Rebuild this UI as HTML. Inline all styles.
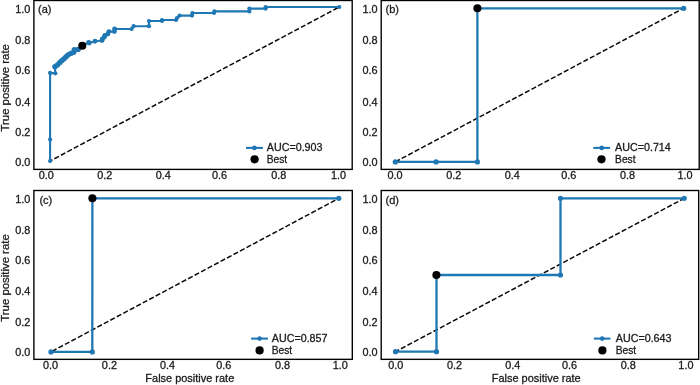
<!DOCTYPE html>
<html><head><meta charset="utf-8"><title>ROC</title>
<style>
html,body{margin:0;padding:0;background:#fff;}
body{width:700px;height:385px;overflow:hidden;}
svg{display:block;will-change:transform;opacity:0.999;}
text{font-family:"Liberation Sans",sans-serif;fill:#1a1a1a;stroke:#1a1a1a;stroke-width:0.28px;}
</style></head><body>
<svg width="700" height="385" viewBox="0 0 700 385">
<rect x="0" y="0" width="700" height="385" fill="#ffffff"/>

<g id="panel-a">
<line x1="50.1" y1="161" x2="339.3" y2="7" stroke="#0a0a0a" stroke-width="1.5" stroke-dasharray="5.1 2.25" stroke-dashoffset="2.5"/>
<polyline fill="none" stroke="#1f77b4" stroke-width="2.1" stroke-linejoin="round" points="50.1,161 50.1,139.6 50.1,72.9 55.3,73.3 54.9,66.8 55.15,65.09 57.4,64.9 57.62,63.01 59.6,62.8 59.81,61 61.7,60.8 61.91,59.18 63.8,59 64.01,57.2 65.9,57 66.11,55.2 68,55 68.29,53.56 70.9,53.4 71.18,52.32 73.7,52.2 73.76,50.04 74.3,49.8 74.68,49.44 78.1,49.4 82.3,45.8 88.6,42.4 89.2,43 95,41.2 102,40.5 102.4,38.9 104.4,37.1 104.8,35.4 107.8,34.1 108.9,31.6 114.4,31.6 114.6,29 131.6,29 133.6,26.2 149,26.2 149,21 162,21 162,20 176,20 177,18 179.6,15.6 192,15.6 192.4,13 214,13 214.4,11.4 249.4,11.4 249.4,8.6 265.6,8.6 265.6,7 339.3,7"/>
<circle cx="54.9" cy="66.8" r="2.7" fill="#1f77b4"/><circle cx="57.4" cy="64.9" r="2.7" fill="#1f77b4"/><circle cx="59.6" cy="62.8" r="2.7" fill="#1f77b4"/><circle cx="61.7" cy="60.8" r="2.7" fill="#1f77b4"/><circle cx="63.8" cy="59" r="2.7" fill="#1f77b4"/><circle cx="65.9" cy="57" r="2.7" fill="#1f77b4"/><circle cx="68" cy="55" r="2.7" fill="#1f77b4"/><circle cx="70.9" cy="53.4" r="2.7" fill="#1f77b4"/><circle cx="73.7" cy="52.2" r="2.7" fill="#1f77b4"/><circle cx="74.3" cy="49.8" r="2.7" fill="#1f77b4"/><circle cx="78.1" cy="49.4" r="2.7" fill="#1f77b4"/>
<circle cx="82.3" cy="45.8" r="2.45" fill="#1f77b4"/><circle cx="88.6" cy="42.4" r="2.45" fill="#1f77b4"/><circle cx="89.2" cy="43" r="2.45" fill="#1f77b4"/><circle cx="95" cy="41.2" r="2.45" fill="#1f77b4"/><circle cx="102" cy="40.5" r="2.45" fill="#1f77b4"/><circle cx="102.4" cy="38.9" r="2.45" fill="#1f77b4"/><circle cx="104.4" cy="37.1" r="2.45" fill="#1f77b4"/><circle cx="104.8" cy="35.4" r="2.45" fill="#1f77b4"/><circle cx="107.8" cy="34.1" r="2.45" fill="#1f77b4"/><circle cx="108.9" cy="31.6" r="2.45" fill="#1f77b4"/><circle cx="114.4" cy="31.6" r="2.45" fill="#1f77b4"/><circle cx="114.6" cy="29" r="2.45" fill="#1f77b4"/>
<circle cx="50.1" cy="161" r="2.1" fill="#1f77b4"/><circle cx="50.1" cy="139.6" r="2.1" fill="#1f77b4"/><circle cx="50.1" cy="72.9" r="2.1" fill="#1f77b4"/><circle cx="55.3" cy="73.3" r="2.1" fill="#1f77b4"/><circle cx="131.6" cy="29" r="2.1" fill="#1f77b4"/><circle cx="133.6" cy="26.2" r="2.1" fill="#1f77b4"/><circle cx="149" cy="26.2" r="2.1" fill="#1f77b4"/><circle cx="149" cy="21" r="2.1" fill="#1f77b4"/><circle cx="162" cy="21" r="2.1" fill="#1f77b4"/><circle cx="162" cy="20" r="2.1" fill="#1f77b4"/><circle cx="176" cy="20" r="2.1" fill="#1f77b4"/><circle cx="177" cy="18" r="2.1" fill="#1f77b4"/><circle cx="179.6" cy="15.6" r="2.1" fill="#1f77b4"/><circle cx="192" cy="15.6" r="2.1" fill="#1f77b4"/><circle cx="192.4" cy="13" r="2.1" fill="#1f77b4"/><circle cx="214" cy="13" r="2.1" fill="#1f77b4"/><circle cx="214.4" cy="11.4" r="2.1" fill="#1f77b4"/><circle cx="249.4" cy="11.4" r="2.1" fill="#1f77b4"/><circle cx="249.4" cy="8.6" r="2.1" fill="#1f77b4"/><circle cx="265.6" cy="8.6" r="2.1" fill="#1f77b4"/><circle cx="265.6" cy="7" r="2.1" fill="#1f77b4"/><circle cx="339.3" cy="7" r="2.1" fill="#1f77b4"/>
<circle cx="82.3" cy="45.8" r="4.05" fill="#000"/>
<rect x="33.9" y="0.5" width="318.3" height="168.9" fill="none" stroke="#000" stroke-width="1.38"/>
<text x="46.25" y="178.8" font-size="10.3" text-anchor="middle" textLength="15.1" lengthAdjust="spacingAndGlyphs">0.0</text>
<text x="104.75" y="178.8" font-size="10.3" text-anchor="middle" textLength="15.1" lengthAdjust="spacingAndGlyphs">0.2</text>
<text x="163.25" y="178.8" font-size="10.3" text-anchor="middle" textLength="15.1" lengthAdjust="spacingAndGlyphs">0.4</text>
<text x="219.5" y="178.8" font-size="10.3" text-anchor="middle" textLength="15.1" lengthAdjust="spacingAndGlyphs">0.6</text>
<text x="278.75" y="178.8" font-size="10.3" text-anchor="middle" textLength="15.1" lengthAdjust="spacingAndGlyphs">0.8</text>
<text x="338.5" y="178.8" font-size="10.3" text-anchor="middle" textLength="15.1" lengthAdjust="spacingAndGlyphs">1.0</text>
<text x="30.3" y="166.1" font-size="10.3" text-anchor="end" textLength="15.1" lengthAdjust="spacingAndGlyphs">0.0</text>
<text x="30.3" y="135.8" font-size="10.3" text-anchor="end" textLength="15.1" lengthAdjust="spacingAndGlyphs">0.2</text>
<text x="30.3" y="105.8" font-size="10.3" text-anchor="end" textLength="15.1" lengthAdjust="spacingAndGlyphs">0.4</text>
<text x="30.3" y="74.3" font-size="10.3" text-anchor="end" textLength="15.1" lengthAdjust="spacingAndGlyphs">0.6</text>
<text x="30.3" y="44" font-size="10.3" text-anchor="end" textLength="15.1" lengthAdjust="spacingAndGlyphs">0.8</text>
<text x="30.3" y="12.9" font-size="10.3" text-anchor="end" textLength="15.1" lengthAdjust="spacingAndGlyphs">1.0</text>
<text x="38" y="13" font-size="11" text-anchor="start" >(a)</text>
<line x1="246" y1="147.9" x2="262.9" y2="147.9" stroke="#1f77b4" stroke-width="2.1"/>
<circle cx="254.4" cy="147.9" r="2.3" fill="#1f77b4"/>
<text x="266.8" y="150.8" font-size="10" text-anchor="start" textLength="55.7" lengthAdjust="spacingAndGlyphs">AUC=0.903</text>
<circle cx="254.6" cy="159.3" r="4.1" fill="#000"/>
<text x="266.8" y="162.7" font-size="10.2" text-anchor="start" >Best</text>
</g>

<g id="panel-b">
<line x1="395.3" y1="161.9" x2="683.7" y2="8.2" stroke="#0a0a0a" stroke-width="1.5" stroke-dasharray="5.1 2.25" stroke-dashoffset="0"/>
<polyline fill="none" stroke="#1f77b4" stroke-width="2.3" stroke-linejoin="round" points="395.3,161.9 436.1,161.9 477.4,161.9 477.4,8.3 683.7,8.3"/>
<circle cx="395.3" cy="161.9" r="2.6" fill="#1f77b4"/><circle cx="436.1" cy="161.9" r="2.6" fill="#1f77b4"/><circle cx="477.4" cy="161.9" r="2.6" fill="#1f77b4"/><circle cx="477.4" cy="8.3" r="2.6" fill="#1f77b4"/><circle cx="683.7" cy="8.3" r="2.6" fill="#1f77b4"/>
<circle cx="477.4" cy="8.3" r="4.05" fill="#000"/>
<rect x="381.2" y="0.5" width="318" height="168.9" fill="none" stroke="#000" stroke-width="1.38"/>
<text x="395" y="178.8" font-size="10.3" text-anchor="middle" textLength="15.1" lengthAdjust="spacingAndGlyphs">0.0</text>
<text x="453.75" y="178.8" font-size="10.3" text-anchor="middle" textLength="15.1" lengthAdjust="spacingAndGlyphs">0.2</text>
<text x="512.25" y="178.8" font-size="10.3" text-anchor="middle" textLength="15.1" lengthAdjust="spacingAndGlyphs">0.4</text>
<text x="568.75" y="178.8" font-size="10.3" text-anchor="middle" textLength="15.1" lengthAdjust="spacingAndGlyphs">0.6</text>
<text x="627.5" y="178.8" font-size="10.3" text-anchor="middle" textLength="15.1" lengthAdjust="spacingAndGlyphs">0.8</text>
<text x="685" y="178.8" font-size="10.3" text-anchor="middle" textLength="15.1" lengthAdjust="spacingAndGlyphs">1.0</text>
<text x="377.6" y="166.1" font-size="10.3" text-anchor="end" textLength="15.1" lengthAdjust="spacingAndGlyphs">0.0</text>
<text x="377.6" y="135.8" font-size="10.3" text-anchor="end" textLength="15.1" lengthAdjust="spacingAndGlyphs">0.2</text>
<text x="377.6" y="105.8" font-size="10.3" text-anchor="end" textLength="15.1" lengthAdjust="spacingAndGlyphs">0.4</text>
<text x="377.6" y="74.3" font-size="10.3" text-anchor="end" textLength="15.1" lengthAdjust="spacingAndGlyphs">0.6</text>
<text x="377.6" y="44" font-size="10.3" text-anchor="end" textLength="15.1" lengthAdjust="spacingAndGlyphs">0.8</text>
<text x="377.6" y="12.9" font-size="10.3" text-anchor="end" textLength="15.1" lengthAdjust="spacingAndGlyphs">1.0</text>
<text x="385.5" y="13" font-size="11" text-anchor="start" >(b)</text>
<line x1="593.3" y1="147.9" x2="610.1" y2="147.9" stroke="#1f77b4" stroke-width="2.1"/>
<circle cx="601.7" cy="147.9" r="2.3" fill="#1f77b4"/>
<text x="615.1" y="150.8" font-size="10" text-anchor="start" textLength="55.7" lengthAdjust="spacingAndGlyphs">AUC=0.714</text>
<circle cx="601.5" cy="159.3" r="4.1" fill="#000"/>
<text x="615.1" y="162.7" font-size="10.2" text-anchor="start" >Best</text>
</g>

<g id="panel-c">
<line x1="51" y1="351.9" x2="338.9" y2="198.3" stroke="#0a0a0a" stroke-width="1.5" stroke-dasharray="5.1 2.25" stroke-dashoffset="-1.1"/>
<polyline fill="none" stroke="#1f77b4" stroke-width="2.3" stroke-linejoin="round" points="51,351.9 92.3,351.9 92.4,198.3 338.8,198.3"/>
<circle cx="51" cy="351.9" r="2.6" fill="#1f77b4"/><circle cx="92.3" cy="351.9" r="2.6" fill="#1f77b4"/><circle cx="92.4" cy="198.3" r="2.6" fill="#1f77b4"/><circle cx="338.8" cy="198.3" r="2.6" fill="#1f77b4"/>
<circle cx="92.4" cy="198.3" r="4.05" fill="#000"/>
<rect x="33.9" y="190.5" width="318.4" height="168.85" fill="none" stroke="#000" stroke-width="1.38"/>
<text x="50.5" y="369.4" font-size="10.3" text-anchor="middle" textLength="15.1" lengthAdjust="spacingAndGlyphs">0.0</text>
<text x="109.4" y="369.4" font-size="10.3" text-anchor="middle" textLength="15.1" lengthAdjust="spacingAndGlyphs">0.2</text>
<text x="167.5" y="369.4" font-size="10.3" text-anchor="middle" textLength="15.1" lengthAdjust="spacingAndGlyphs">0.4</text>
<text x="223.75" y="369.4" font-size="10.3" text-anchor="middle" textLength="15.1" lengthAdjust="spacingAndGlyphs">0.6</text>
<text x="282.5" y="369.4" font-size="10.3" text-anchor="middle" textLength="15.1" lengthAdjust="spacingAndGlyphs">0.8</text>
<text x="340.25" y="369.4" font-size="10.3" text-anchor="middle" textLength="15.1" lengthAdjust="spacingAndGlyphs">1.0</text>
<text x="30.3" y="356.2" font-size="10.3" text-anchor="end" textLength="15.1" lengthAdjust="spacingAndGlyphs">0.0</text>
<text x="30.3" y="325.5" font-size="10.3" text-anchor="end" textLength="15.1" lengthAdjust="spacingAndGlyphs">0.2</text>
<text x="30.3" y="294.8" font-size="10.3" text-anchor="end" textLength="15.1" lengthAdjust="spacingAndGlyphs">0.4</text>
<text x="30.3" y="263.6" font-size="10.3" text-anchor="end" textLength="15.1" lengthAdjust="spacingAndGlyphs">0.6</text>
<text x="30.3" y="233.6" font-size="10.3" text-anchor="end" textLength="15.1" lengthAdjust="spacingAndGlyphs">0.8</text>
<text x="30.3" y="202.9" font-size="10.3" text-anchor="end" textLength="15.1" lengthAdjust="spacingAndGlyphs">1.0</text>
<text x="39.4" y="203.5" font-size="11" text-anchor="start" >(c)</text>
<line x1="251.1" y1="338.6" x2="267.9" y2="338.6" stroke="#1f77b4" stroke-width="2.1"/>
<circle cx="259.6" cy="338.6" r="2.3" fill="#1f77b4"/>
<text x="271.8" y="341.6" font-size="10" text-anchor="start" textLength="55.7" lengthAdjust="spacingAndGlyphs">AUC=0.857</text>
<circle cx="259.6" cy="350.4" r="4.1" fill="#000"/>
<text x="271.8" y="354" font-size="10.2" text-anchor="start" >Best</text>
</g>

<g id="panel-d">
<line x1="395.4" y1="351.7" x2="684.3" y2="198.3" stroke="#0a0a0a" stroke-width="1.5" stroke-dasharray="5.1 2.25" stroke-dashoffset="1"/>
<polyline fill="none" stroke="#1f77b4" stroke-width="2.3" stroke-linejoin="round" points="395.5,351.7 436.5,351.7 436.5,275 560.5,275 560.5,198.3 684.2,198.3"/>
<circle cx="395.5" cy="351.7" r="2.6" fill="#1f77b4"/><circle cx="436.5" cy="351.7" r="2.6" fill="#1f77b4"/><circle cx="436.5" cy="275" r="2.6" fill="#1f77b4"/><circle cx="560.5" cy="275" r="2.6" fill="#1f77b4"/><circle cx="560.5" cy="198.3" r="2.6" fill="#1f77b4"/><circle cx="684.2" cy="198.3" r="2.6" fill="#1f77b4"/>
<circle cx="436.4" cy="275" r="4.05" fill="#000"/>
<rect x="381.2" y="190.5" width="317.5" height="168.85" fill="none" stroke="#000" stroke-width="1.38"/>
<text x="395.75" y="369.4" font-size="10.3" text-anchor="middle" textLength="15.1" lengthAdjust="spacingAndGlyphs">0.0</text>
<text x="454.5" y="369.4" font-size="10.3" text-anchor="middle" textLength="15.1" lengthAdjust="spacingAndGlyphs">0.2</text>
<text x="512.75" y="369.4" font-size="10.3" text-anchor="middle" textLength="15.1" lengthAdjust="spacingAndGlyphs">0.4</text>
<text x="569.5" y="369.4" font-size="10.3" text-anchor="middle" textLength="15.1" lengthAdjust="spacingAndGlyphs">0.6</text>
<text x="628.25" y="369.4" font-size="10.3" text-anchor="middle" textLength="15.1" lengthAdjust="spacingAndGlyphs">0.8</text>
<text x="685.9" y="369.4" font-size="10.3" text-anchor="middle" textLength="15.1" lengthAdjust="spacingAndGlyphs">1.0</text>
<text x="377.6" y="356.2" font-size="10.3" text-anchor="end" textLength="15.1" lengthAdjust="spacingAndGlyphs">0.0</text>
<text x="377.6" y="325.5" font-size="10.3" text-anchor="end" textLength="15.1" lengthAdjust="spacingAndGlyphs">0.2</text>
<text x="377.6" y="294.8" font-size="10.3" text-anchor="end" textLength="15.1" lengthAdjust="spacingAndGlyphs">0.4</text>
<text x="377.6" y="263.6" font-size="10.3" text-anchor="end" textLength="15.1" lengthAdjust="spacingAndGlyphs">0.6</text>
<text x="377.6" y="233.6" font-size="10.3" text-anchor="end" textLength="15.1" lengthAdjust="spacingAndGlyphs">0.8</text>
<text x="377.6" y="202.9" font-size="10.3" text-anchor="end" textLength="15.1" lengthAdjust="spacingAndGlyphs">1.0</text>
<text x="385.5" y="203.5" font-size="11" text-anchor="start" >(d)</text>
<line x1="593.9" y1="338.6" x2="610.4" y2="338.6" stroke="#1f77b4" stroke-width="2.1"/>
<circle cx="602.2" cy="338.6" r="2.3" fill="#1f77b4"/>
<text x="615.8" y="341.6" font-size="10" text-anchor="start" textLength="55.7" lengthAdjust="spacingAndGlyphs">AUC=0.643</text>
<circle cx="602.4" cy="350.4" r="4.1" fill="#000"/>
<text x="615.8" y="354" font-size="10.2" text-anchor="start" >Best</text>
</g>

<text transform="translate(8.6,87.8) rotate(-90)" text-anchor="middle" font-size="10.6" textLength="87.4" lengthAdjust="spacingAndGlyphs">True positive rate</text>
<text transform="translate(8.6,278.0) rotate(-90)" text-anchor="middle" font-size="10.6" textLength="87.4" lengthAdjust="spacingAndGlyphs">True positive rate</text>
<text x="189.8" y="382" font-size="10.5" text-anchor="middle" textLength="88.9" lengthAdjust="spacingAndGlyphs">False positive rate</text>
<text x="536.2" y="382.4" font-size="10.5" text-anchor="middle" textLength="88.9" lengthAdjust="spacingAndGlyphs">False positive rate</text>
</svg></body></html>
